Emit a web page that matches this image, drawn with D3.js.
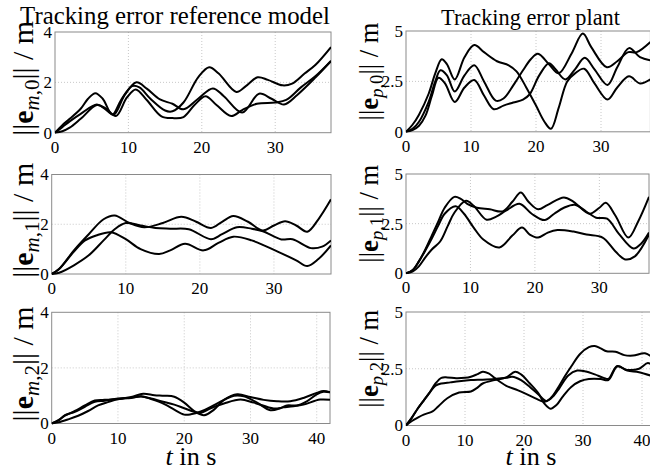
<!DOCTYPE html>
<html><head><meta charset="utf-8">
<script src="https://cdn.jsdelivr.net/npm/d3@7"></script>
<style>body{margin:0;background:#fff}</style>
</head><body><svg id="c" width="650" height="468"></svg>
<script>
// ---------- tick labels / domains ----------
const xTicksShort = [0, 10, 20, 30];
const xTicksLong = [0, 10, 20, 30, 40];
const yTicksM = [0, 2, 4];
const yTicksP = [0, 2.5, 5];
const yTickLabelsP = ["0", "2.5", "5"];
const tEnd = [37.6, 37.7, 42];
const titleLeft = "Tracking error reference model";
const titleRight = "Tracking error plant";

// ---------- ||e_{m,0}|| ----------
const em0_a = [[0,0],[1,0.3],[2,0.55],[3.5,0.95],[4.5,1.35],[5.5,1.57],[6.5,1.35],[7.8,0.72],[9,1.3],[10.5,1.85],[11.5,1.8],[13,1.35],[15,0.88],[16,0.85],[17.5,1.2],[19.5,2.2],[21,2.6],[22.3,2.35],[24.7,1.62],[26,1.85],[27.6,2.2],[29,2.1],[31,1.88],[32.3,1.95],[34,2.35],[35.5,2.7],[37.6,3.4]];
const em0_b = [[0,0],[1,0.22],[2,0.45],[3.5,0.75],[5.7,1.12],[6.8,0.95],[8,0.72],[9.5,1.5],[11.1,2.0],[12.5,1.75],[14.3,1.32],[16,1.15],[17.5,0.93],[19.5,1.35],[21.5,1.76],[23,1.45],[25.5,0.8],[27.8,1.55],[29.5,1.35],[31.2,1.12],[33,1.5],[35.5,2.2],[37.6,2.85]];
const em0_c = [[0,0],[1,0.06],[2,0.2],[3.5,0.55],[5.7,1.1],[7,0.95],[8.3,0.66],[9.8,1.4],[11,1.72],[12.5,1.3],[14.5,0.65],[16,0.58],[17.5,0.62],[19,1.1],[20.5,1.45],[22,1.1],[24,0.66],[25.5,0.9],[27.5,1.15],[30,1.2],[31.5,1.3],[33.5,1.8],[35.5,2.25],[37.6,2.85]];

// ---------- ||e_{p,0}|| ----------
const ep0_a = [[0,0],[1,0.35],[2,0.85],[3.5,1.9],[4.5,2.9],[5.5,3.6],[6.3,3.35],[7.5,2.6],[9,3.7],[10.5,4.3],[12,3.95],[14,3.5],[15.8,3.3],[17,3.0],[18.5,2.2],[20,1.3],[21.3,0.5],[22.3,0.15],[23.5,1.2],[24.8,2.5],[26,2.9],[27.4,3.13],[29,2.4],[31,1.6],[32.5,2.2],[34.3,2.75],[36,2.4],[37.6,2.6]];
const ep0_b = [[0,0],[1,0.15],[2,0.5],[3.5,1.5],[4.5,2.5],[5.3,3.05],[6.3,2.8],[7.5,2.0],[9,2.8],[10.5,3.3],[12,2.5],[13.8,1.55],[15,1.65],[16.5,2.3],[18,3.05],[19.2,3.6],[20.3,3.87],[22,3.35],[23.5,2.9],[25.5,3.9],[27.2,4.87],[28.5,4.2],[30.9,3.2],[32.5,3.5],[34.2,3.95],[35.5,3.95],[37.6,4.45]];
const ep0_c = [[0,0],[1,0.08],[2,0.3],[3,0.8],[4,1.8],[5,2.68],[6,2.4],[7.5,1.48],[9,2.2],[10.5,2.57],[12,1.8],[13.5,1.12],[15,1.3],[16.5,1.45],[18,1.6],[19,1.85],[20.5,2.8],[22,3.4],[23,3.1],[24.5,2.6],[26,3.1],[27.5,3.67],[29,3.1],[31,2.32],[32.5,3.2],[34.3,4.15],[36,3.7],[37.6,3.55]];

// ---------- ||e_{m,1}|| ----------
const em1_a = [[0,0],[1,0.2],[3,0.95],[5,1.6],[7,2.2],[8.5,2.35],[10.5,2.05],[12.5,1.88],[15,2.05],[17.5,2.3],[19.5,2.1],[21.5,1.85],[23,2.1],[24.5,2.33],[26.5,2.1],[28.5,1.75],[30,1.95],[31.5,2.12],[33,1.95],[34.5,1.7],[36,2.2],[37.7,3.0]];
const em1_b = [[0,0],[1,0.05],[3,0.35],[5,0.75],[7,1.35],[8.5,1.8],[10,2.05],[12,1.95],[14,1.85],[16,1.82],[18.5,1.8],[21.5,1.4],[23,1.6],[25,1.88],[27,1.82],[28.5,1.72],[31,1.39],[32.5,1.4],[35,1.04],[36.5,1.1],[37.7,1.35]];
const em1_c = [[0,0],[1,0.2],[3,0.9],[4.5,1.35],[6,1.55],[8,1.68],[10,1.4],[12,1.0],[14.5,0.8],[16,0.95],[18,1.22],[20.5,0.95],[22.5,1.25],[24.5,1.5],[27,1.35],[30.5,0.9],[33,0.55],[34.5,0.32],[36,0.6],[37.7,1.15]];

// ---------- ||e_{p,1}|| ----------
const ep1_a = [[0,0],[1,0.15],[2,0.6],[3,1.2],[4,1.9],[5,2.6],[6,3.3],[7.5,3.85],[8.5,3.75],[9.5,3.5],[11,3.3],[13,3.22],[15,3.12],[16.5,3.6],[17.8,4.07],[19,3.6],[20.5,3.22],[22,3.45],[24.5,3.82],[26,3.6],[28.5,3.0],[30,3.3],[31,3.55],[32.5,2.9],[34.5,1.8],[36,2.6],[37.7,3.85]];
const ep1_b = [[0,0],[1,0.08],[2,0.35],[3,0.8],[4,1.2],[5.3,1.6],[6.5,2.4],[7.5,3.05],[9.3,3.65],[10.5,3.4],[12.5,2.7],[14,2.85],[15.5,3.15],[17.6,3.5],[19.5,3.0],[21.5,2.68],[23,3.0],[24.5,3.3],[26.2,3.45],[28,3.1],[29.5,2.8],[31.2,2.75],[33,2.0],[35.3,1.25],[36.5,1.5],[37.7,2.05]];
const ep1_c = [[0,0],[1,0.15],[2,0.6],[3,1.15],[4,1.75],[5,2.4],[6,3.0],[7.7,3.38],[9,3.0],[10.5,2.3],[12,1.7],[14.5,1.3],[16.5,1.9],[18,2.3],[19.2,1.95],[20.5,1.8],[22,2.05],[23.5,2.18],[26,2.1],[28,1.95],[30.5,1.8],[32.5,1.1],[34,0.7],[35.5,0.85],[37.7,1.95]];

// ---------- ||e_{m,2}|| ----------
const em2_a = [[0,0],[1,0.12],[2,0.28],[3.5,0.45],[5,0.65],[6.5,0.83],[8,0.85],[10,0.88],[12,0.95],[13.8,1.07],[15.5,1.02],[17,1.0],[18.5,0.96],[20,0.75],[21.5,0.45],[23,0.3],[24.5,0.5],[26,0.85],[28,1.05],[30,0.95],[32,0.85],[34,0.8],[36,0.8],[38,0.92],[40,1.1],[41,1.17],[42,1.12]];
const em2_b = [[0,0],[1,0.1],[2,0.3],[3.5,0.42],[5,0.6],[6.5,0.78],[8,0.82],[10,0.9],[12,0.92],[13.5,0.98],[15,0.88],[17,0.7],[18.5,0.5],[20,0.32],[21,0.33],[22.5,0.43],[24,0.6],[26,0.85],[27.5,1.0],[29,0.98],[31,0.75],[33,0.48],[34.5,0.55],[35.5,0.65],[37,0.65],[38.5,0.8],[40,1.05],[41,1.14],[42,1.12]];
const em2_c = [[0,0],[1,0.04],[2.5,0.15],[4,0.28],[5.5,0.45],[7,0.65],[8.5,0.77],[10,0.87],[12,0.93],[13.5,0.97],[15,0.9],[16.5,0.8],[18.5,0.68],[20,0.55],[21.5,0.42],[22.5,0.38],[24,0.55],[26,0.72],[28.5,0.86],[30.5,0.75],[33.5,0.54],[35,0.58],[36.5,0.62],[38,0.68],[40.5,0.86],[42,0.85]];

// ---------- ||e_{p,2}|| ----------
const ep2_a = [[0,0],[1,0.35],[2,0.75],[3,1.1],[4,1.45],[5,1.85],[6,2.1],[7,2.12],[8.5,2.08],[10,2.1],[11,2.15],[12,2.25],[13,2.37],[14,2.3],[15,2.1],[17,1.75],[19,1.55],[21.5,1.25],[23.5,1.05],[24.5,1.2],[25.5,1.55],[27,2.2],[28,2.6],[29.5,3.15],[31,3.45],[32,3.5],[33,3.4],[34,3.27],[35.5,3.25],[37,3.1],[38.5,3.08],[40.5,3.18],[42,2.95]];
const ep2_b = [[0,0],[1,0.35],[2,0.75],[3,1.1],[4,1.45],[5,1.75],[6,1.85],[7.5,1.9],[9,1.95],[11,2.0],[13,2.02],[15,2.05],[17,2.1],[18,2.15],[19.5,2.0],[21,1.7],[22.5,1.35],[23.8,1.08],[25,1.3],[26,1.65],[27.5,2.2],[29,2.42],[30.5,2.38],[32,2.25],[33.5,2.1],[34.3,2.05],[35.8,2.62],[37.5,2.42],[39.5,2.35],[42,2.15]];
const ep2_c = [[0,0],[1,0.2],[2,0.35],[3,0.48],[4.5,0.62],[5.5,0.85],[7,1.2],[9,1.45],[11,1.5],[12,1.65],[13,1.85],[15,2.0],[17,2.12],[18.5,2.37],[19.5,2.25],[21,1.85],[22.5,1.4],[23.5,0.95],[24.5,0.74],[25.5,0.9],[26.5,1.25],[28,1.7],[29.5,1.95],[31,2.05],[33,2.05],[34.3,2.0],[35.8,2.6],[37.5,2.45],[39.5,2.5],[41,2.75],[42,2.6]];

// ---------- layout ----------
const svg = d3.select("#c");
const FONT = "Liberation Serif, Times New Roman, serif";

const panels = [
  {x0:55,  x1:331,   y0:32,    y1:132.7, row:0, side:"m", idx:"0", series:[em0_a,em0_b,em0_c]},
  {x0:406, x1:650.4, y0:31,    y1:131.8, row:0, side:"p", idx:"0", series:[ep0_a,ep0_b,ep0_c]},
  {x0:51.7,x1:331,   y0:174.5, y1:274,   row:1, side:"m", idx:"1", series:[em1_a,em1_b,em1_c]},
  {x0:406, x1:649,   y0:174,   y1:273.3, row:1, side:"p", idx:"1", series:[ep1_a,ep1_b,ep1_c]},
  {x0:51.7,x1:330,   y0:312.3, y1:423.5, row:2, side:"m", idx:"2", series:[em2_a,em2_b,em2_c]},
  {x0:406, x1:653.8, y0:312,   y1:425.5, row:2, side:"p", idx:"2", series:[ep2_a,ep2_b,ep2_c]}
];

const defs = svg.append("defs");

panels.forEach((p, i) => {
  const x = d3.scaleLinear().domain([0, tEnd[p.row]]).range([p.x0, p.x1]);
  const yTicks = p.side === "m" ? yTicksM : yTicksP;
  const y = d3.scaleLinear().domain([0, yTicks[yTicks.length-1]]).range([p.y1, p.y0]);
  const xt = p.row === 2 ? xTicksLong : xTicksShort;
  const g = svg.append("g");

  // grid
  g.append("g").selectAll("line").data(xt.filter(v => v > 0)).join("line")
    .attr("x1", d => x(d)).attr("x2", d => x(d)).attr("y1", p.y0).attr("y2", p.y1)
    .attr("stroke", "#c8c8c8").attr("stroke-width", 1).attr("stroke-dasharray", "1,2");
  g.append("g").selectAll("line").data(yTicks.filter(v => v > 0 && v < yTicks[yTicks.length-1])).join("line")
    .attr("x1", p.x0).attr("x2", p.x1).attr("y1", d => y(d)).attr("y2", d => y(d))
    .attr("stroke", "#c8c8c8").attr("stroke-width", 1).attr("stroke-dasharray", "1,2");

  // frame
  g.append("rect").attr("x", p.x0).attr("y", p.y0).attr("width", p.x1 - p.x0).attr("height", p.y1 - p.y0)
    .attr("fill", "none").attr("stroke", "#8a8a8a").attr("stroke-width", 1);

  // lines
  const cid = "clip" + i;
  defs.append("clipPath").attr("id", cid).append("rect")
    .attr("x", p.x0).attr("y", p.y0 - 1).attr("width", p.x1 - p.x0).attr("height", p.y1 - p.y0 + 2);
  const line = d3.line().x(d => x(d[0])).y(d => y(d[1])).curve(d3.curveCatmullRom.alpha(0.5));
  g.append("g").attr("clip-path", `url(#${cid})`).selectAll("path").data(p.series).join("path")
    .attr("d", line).attr("fill", "none").attr("stroke", "#000").attr("stroke-width", 2)
    .attr("stroke-linejoin", "round");

  // tick labels
  g.append("g").selectAll("text").data(xt).join("text")
    .attr("x", d => x(d)).attr("y", p.y1 + 20).attr("text-anchor", "middle")
    .style("font-family", FONT).attr("font-size", 17).text(d => d);
  g.append("g").selectAll("text").data(yTicks).join("text")
    .attr("x", p.x0 - 3).attr("y", d => y(d)).attr("dy", "0.35em").attr("text-anchor", "end")
    .style("font-family", FONT).attr("font-size", 17)
    .text((d, k) => p.side === "m" ? d : yTickLabelsP[k]);

  // y label
  const left = p.side === "m";
  const cy = (p.y0 + p.y1) / 2 - (left ? 4 : 10);
  const bx = left ? 33 : 378;
  const t = svg.append("text").style("font-family", FONT)
    .attr("transform", `translate(${bx},${cy}) rotate(-90)`).attr("text-anchor", "middle");
  t.append("tspan").text("||");
  t.append("tspan").attr("font-weight", "bold").text("e");
  t.append("tspan").attr("font-style", "italic").attr("font-size", "0.7em").attr("dy", "0.28em").text(p.side);
  t.append("tspan").attr("font-size", "0.7em").text("," + p.idx);
  t.append("tspan").attr("dy", "-0.2em").text("|| / m");
  const target = left ? 115 : 98;
  t.attr("font-size", 24);
  const L = t.node().getComputedTextLength();
  t.attr("font-size", 24 * target / L);
});

// titles
function fitText(sel, target) {
  sel.attr("font-size", 20);
  const L = sel.node().getComputedTextLength();
  sel.attr("font-size", 20 * target / L);
}
fitText(svg.append("text").attr("x", 175).attr("y", 24).attr("text-anchor", "middle")
  .style("font-family", FONT).text(titleLeft), 310);
fitText(svg.append("text").attr("x", 530.5).attr("y", 25).attr("text-anchor", "middle")
  .style("font-family", FONT).text(titleRight), 179);

// x labels
[191, 531].forEach(cx => {
  const t = svg.append("text").attr("x", cx).attr("y", 465).attr("text-anchor", "middle")
    .style("font-family", FONT);
  t.append("tspan").attr("font-style", "italic").text("t");
  t.append("tspan").text(" in s");
  fitText(t, 51);
});
</script></body></html>
